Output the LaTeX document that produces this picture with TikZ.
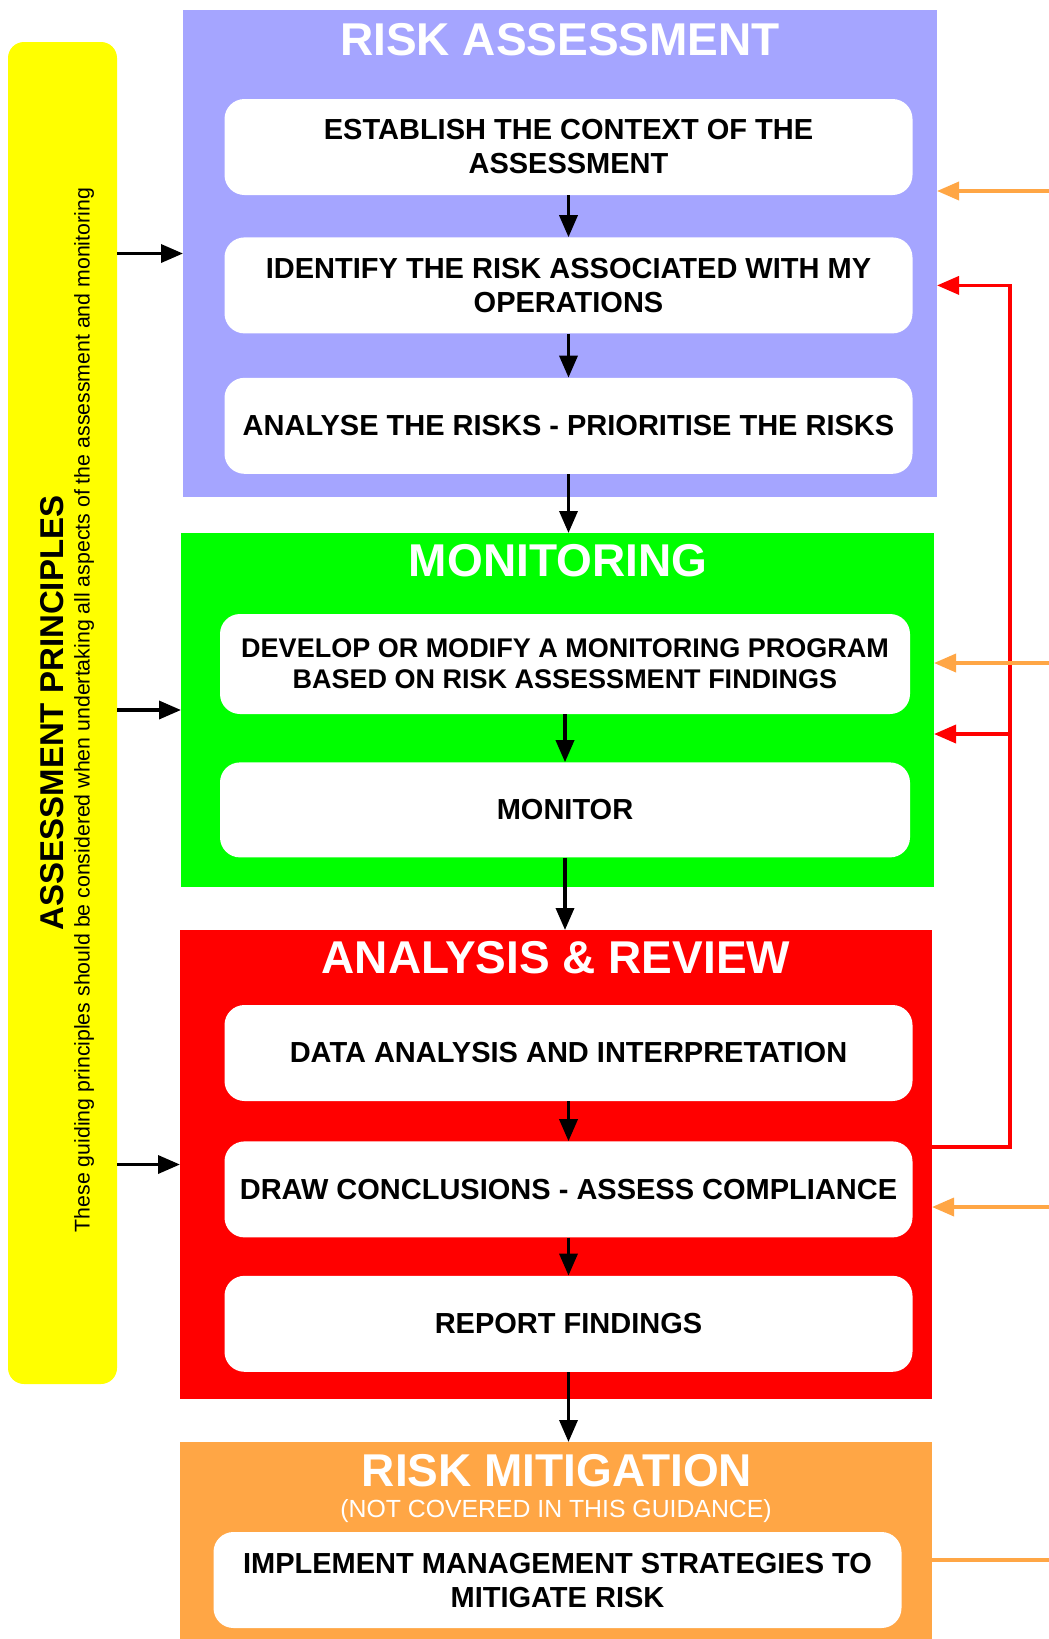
\documentclass[tikz,border=0pt]{standalone}
\usepackage{fontspec}
\setmainfont{Liberation Sans}
\usetikzlibrary{positioning}
\usetikzlibrary{arrows.meta}

\definecolor{assessblue}{RGB}{165,165,255}
\definecolor{monitorgreen}{RGB}{0,255,0}
\definecolor{reviewred}{RGB}{255,0,0}
\definecolor{mitigateorange}{RGB}{255,166,69}
\definecolor{principleyellow}{RGB}{255,255,0}

\newcommand{\panel}[5]{\node (#1) [panel, fill=#2, minimum width=#3pt, minimum height=#4pt] at (#5) {};}
\tikzstyle{panel} = [inner sep=0pt, outer sep=0pt]
\tikzstyle{task} = [fill=white, rounded corners=20pt, minimum width=688pt, minimum height=96pt, inner sep=0pt, align=center, font=\fontsize{29}{34}\selectfont\bfseries]
\tikzstyle{heading} = [text=white, font=\fontsize{46}{50}\selectfont\bfseries]
\tikzstyle{flow} = [-{Triangle[length=22pt,width=18pt]}, line width=3.5pt]
\tikzstyle{feedback} = [flow, draw=reviewred]
\tikzstyle{input} = [flow, draw=mitigateorange]

\begin{document}
\begin{tikzpicture}[x=1pt, y=-1pt]
	\useasboundingbox (0,0) rectangle (1049,1639);
	\fill[white] (0,0) rectangle (1049,1639);

	% principles bar
	\node (principles) [panel, fill=principleyellow, rounded corners=16pt, minimum width=109pt, minimum height=1342pt] at (62.5,713) {};
	\node (principlestitle) [rotate=90, font=\fontsize{33}{36}\selectfont\bfseries] at (52,713) {ASSESSMENT PRINCIPLES};
	\node (principlesnote) [rotate=90, font=\fontsize{21.3}{23}\selectfont] at (84,710) {These guiding principles should be considered when undertaking all aspects of the assessment and monitoring};

	% stages
	\panel{assess}{assessblue}{754}{487}{560,253.5}
	\panel{monitoring}{monitorgreen}{753}{354}{557.5,710}
	\panel{review}{reviewred}{752}{469}{556,1164.5}
	\panel{mitigate}{mitigateorange}{752}{197}{556,1540.5}

	\node (assesstitle) [heading] at (560,40) {RISK ASSESSMENT};
	\node (monitortitle) [heading] at (558,561) {MONITORING};
	\node (reviewtitle) [heading] at (556,958) {ANALYSIS \& REVIEW};
	\node (mitigatetitle) [heading] at (557,1471) {RISK MITIGATION};
	\node (mitigatenote) [text=white, font=\fontsize{24.8}{27}\selectfont] at (556,1511) {(NOT COVERED IN THIS GUIDANCE)};

	\node (establish) [task] at (568.5,147) {ESTABLISH THE CONTEXT OF THE\\ASSESSMENT};
	\node (identify) [task, below=42pt of establish] {IDENTIFY THE RISK ASSOCIATED WITH MY\\OPERATIONS};
	\node (analyse) [task, below=44pt of identify] {ANALYSE THE RISKS - PRIORITISE THE RISKS};

	\node (develop) [task, minimum width=690pt, minimum height=100pt, font=\fontsize{27}{31}\selectfont\bfseries] at (565,664) {DEVELOP OR MODIFY A MONITORING PROGRAM\\BASED ON RISK ASSESSMENT FINDINGS};
	\node (monitor) [task, minimum width=690pt, minimum height=95pt, below=48pt of develop] {MONITOR};

	\node (interpret) [task] at (568.5,1053) {DATA ANALYSIS AND INTERPRETATION};
	\node (conclude) [task, below=40pt of interpret] {DRAW CONCLUSIONS - ASSESS COMPLIANCE};
	\node (report) [task, below=38pt of conclude] {REPORT FINDINGS};

	\node (implement) [task] at (557.5,1580) {IMPLEMENT MANAGEMENT STRATEGIES TO\\MITIGATE RISK};

	% main flow
	\draw[flow] (establish) -- (identify);
	\draw[flow] (identify) -- (analyse);
	\draw[flow] (analyse.south) -- (analyse.south |- monitoring.north);
	\draw[flow] (develop) -- (monitor);
	\draw[flow] (monitor.south) -- (monitor.south |- review.north);
	\draw[flow] (interpret) -- (conclude);
	\draw[flow] (conclude) -- (report);
	\draw[flow] (report.south) -- (report.south |- mitigate.north);

	% principles feed every stage
	\draw[flow] (principles.east |- assess.west) -- (assess.west);
	\draw[flow] (principles.east |- monitoring.west) -- (monitoring.west);
	\draw[flow] (principles.east |- review.west) -- (review.west);

	% review loops back
	\coordinate (loop) at (1010,1147);
	\coordinate (tap) at (1010,734);
	\draw[feedback] (review.east |- loop) -- (loop) |- (identify -| assess.east);
	\draw[feedback] (tap) -- (tap -| monitoring.east);

	% mitigation links
	\coordinate (in1) at (1049,191);
	\coordinate (in2) at (1049,663);
	\coordinate (in3) at (1049,1207);
	\coordinate (out) at (1049,1560);
	\draw[input] (in1) -- (in1 -| assess.east);
	\draw[input] (in2) -- (in2 -| monitoring.east);
	\draw[input] (in3) -- (in3 -| review.east);
	\draw[line width=3.5pt, draw=mitigateorange] (mitigate.east |- out) -- (out);
\end{tikzpicture}
\end{document}
